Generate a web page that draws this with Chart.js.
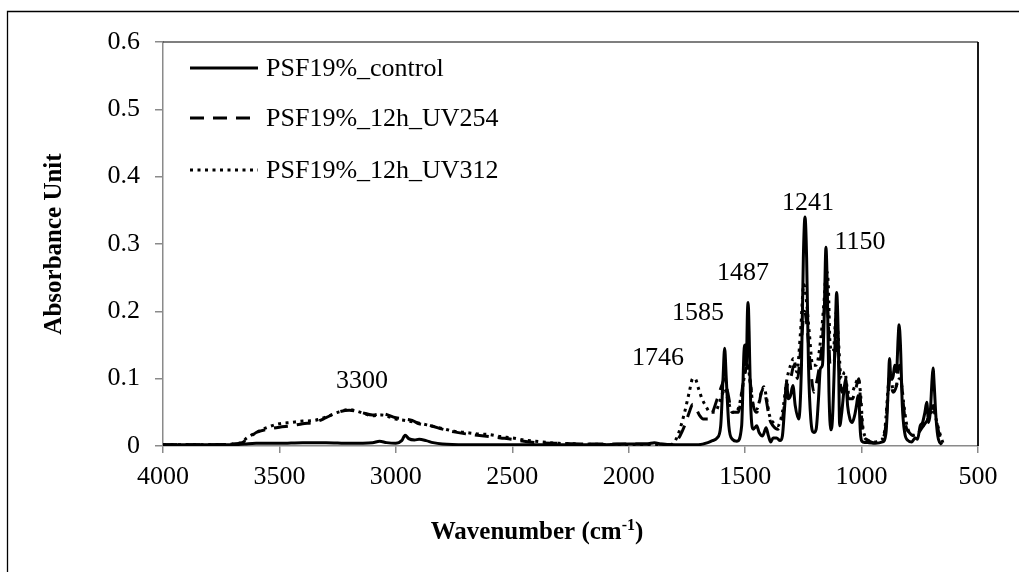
<!DOCTYPE html>
<html><head><meta charset="utf-8">
<script src="https://cdn.jsdelivr.net/npm/chart.js@4.4.0/dist/chart.umd.min.js"></script>
<style>html,body{margin:0;padding:0;background:#fff;}canvas{display:block;}</style>
</head><body>
<canvas id="c" width="1019" height="572"></canvas>
<script>
const seriesNames = ['PSF19%_control', 'PSF19%_12h_UV254', 'PSF19%_12h_UV312'];
const xTickValues = [4000, 3500, 3000, 2500, 2000, 1500, 1000, 500];
const yTickValues = [0, 0.1, 0.2, 0.3, 0.4, 0.5, 0.6];
const xTitle = 'Wavenumber (cm';
const xTitleSup = '-1';
const yTitle = 'Absorbance Unit';

const wnControl = [4000,3900,3800,3700,3650,3600,3500,3400,3300,3200,3100,3070,3040,3000,2975,2960,2945,2920,2900,2870,2840,2800,2700,2500,2300,2100,2000,1920,1890,1860,1800,1700,1660,1640,1620,1605,1595,1588,1581,1570,1555,1535,1515,1505,1500,1495,1490,1487,1483,1476,1465,1450,1440,1425,1410,1400,1390,1380,1365,1350,1340,1330,1322,1315,1305,1295,1285,1270,1258,1250,1243,1236,1228,1218,1205,1195,1185,1177,1168,1160,1153,1147,1140,1132,1125,1115,1107,1100,1094,1085,1075,1068,1060,1050,1040,1030,1022,1015,1010,1005,995,970,940,910,895,885,880,874,866,858,850,843,839,833,825,815,800,785,770,760,748,738,728,720,712,705,697,693,688,680,670,655];
const absControl = [0.002,0.002,0.002,0.002,0.003,0.004,0.004,0.005,0.005,0.004,0.005,0.007,0.005,0.004,0.008,0.016,0.011,0.009,0.010,0.008,0.005,0.003,0.002,0.002,0.002,0.002,0.003,0.003,0.005,0.003,0.002,0.002,0.005,0.008,0.012,0.030,0.100,0.145,0.100,0.030,0.010,0.007,0.030,0.140,0.150,0.120,0.200,0.213,0.170,0.060,0.025,0.030,0.020,0.015,0.027,0.015,0.006,0.012,0.012,0.008,0.015,0.060,0.095,0.070,0.075,0.090,0.060,0.040,0.120,0.280,0.340,0.280,0.120,0.040,0.020,0.025,0.070,0.115,0.120,0.200,0.295,0.230,0.080,0.024,0.040,0.140,0.228,0.160,0.030,0.050,0.085,0.100,0.060,0.040,0.035,0.045,0.060,0.075,0.060,0.020,0.006,0.005,0.004,0.006,0.020,0.090,0.130,0.100,0.100,0.120,0.110,0.160,0.180,0.150,0.060,0.020,0.008,0.006,0.012,0.010,0.030,0.035,0.050,0.065,0.035,0.050,0.100,0.116,0.090,0.040,0.010,0.002];

const wnUV254 = [4000,3800,3700,3660,3640,3620,3600,3550,3500,3450,3400,3350,3300,3250,3200,3150,3100,3060,3000,2960,2930,2900,2850,2800,2750,2700,2650,2600,2550,2500,2450,2400,2300,2200,2000,1900,1820,1800,1780,1760,1740,1725,1710,1695,1680,1660,1640,1620,1600,1588,1575,1555,1530,1510,1500,1490,1480,1465,1450,1430,1420,1410,1395,1380,1360,1340,1320,1305,1290,1275,1260,1245,1235,1220,1205,1190,1170,1155,1145,1135,1120,1108,1100,1085,1070,1055,1040,1025,1012,1005,995,980,950,920,900,885,878,865,850,838,830,820,810,795,775,755,735,715,700,692,680,665,650];
const absUV254 = [0.002,0.002,0.003,0.005,0.010,0.015,0.020,0.025,0.028,0.030,0.033,0.035,0.042,0.050,0.053,0.050,0.046,0.048,0.042,0.040,0.038,0.033,0.030,0.025,0.021,0.018,0.016,0.014,0.012,0.010,0.007,0.005,0.004,0.003,0.003,0.003,0.002,0.005,0.015,0.030,0.050,0.062,0.055,0.045,0.040,0.040,0.050,0.070,0.090,0.100,0.080,0.050,0.050,0.090,0.110,0.120,0.100,0.060,0.050,0.080,0.085,0.070,0.040,0.030,0.025,0.040,0.090,0.100,0.120,0.100,0.150,0.200,0.180,0.120,0.080,0.100,0.150,0.220,0.200,0.120,0.120,0.160,0.130,0.080,0.090,0.070,0.070,0.085,0.100,0.070,0.020,0.010,0.005,0.008,0.020,0.080,0.100,0.080,0.090,0.120,0.100,0.060,0.030,0.020,0.015,0.020,0.030,0.040,0.055,0.060,0.040,0.015,0.003];

const wnUV312 = [4000,3800,3700,3660,3640,3600,3550,3500,3450,3400,3350,3300,3250,3200,3150,3100,3060,3000,2960,2900,2850,2800,2750,2700,2650,2600,2550,2500,2450,2400,2300,2200,2000,1900,1820,1800,1780,1760,1740,1725,1715,1700,1685,1670,1650,1630,1610,1595,1588,1575,1555,1530,1510,1500,1490,1480,1465,1450,1430,1420,1410,1395,1380,1360,1340,1320,1305,1292,1278,1262,1248,1238,1225,1210,1195,1175,1160,1152,1143,1135,1122,1108,1100,1087,1072,1058,1042,1028,1015,1005,995,980,950,920,900,885,878,865,850,838,828,818,808,795,775,755,735,715,700,692,680,665,650];
const absUV312 = [0.002,0.002,0.003,0.006,0.012,0.020,0.028,0.033,0.035,0.037,0.038,0.043,0.050,0.054,0.050,0.045,0.046,0.040,0.038,0.034,0.030,0.026,0.022,0.020,0.018,0.017,0.014,0.012,0.009,0.007,0.004,0.003,0.002,0.002,0.002,0.008,0.025,0.050,0.080,0.100,0.100,0.085,0.070,0.060,0.050,0.050,0.065,0.080,0.085,0.070,0.050,0.055,0.090,0.110,0.125,0.100,0.060,0.055,0.080,0.088,0.075,0.045,0.035,0.030,0.050,0.100,0.120,0.130,0.110,0.170,0.240,0.220,0.170,0.120,0.120,0.160,0.220,0.260,0.240,0.150,0.140,0.200,0.160,0.100,0.110,0.080,0.080,0.090,0.100,0.080,0.030,0.012,0.006,0.008,0.025,0.090,0.110,0.085,0.090,0.100,0.090,0.060,0.035,0.020,0.016,0.020,0.030,0.040,0.050,0.055,0.040,0.020,0.004];

const peakLabels = ['3300', '1746', '1585', '1487', '1241', '1150'];
const peakLabelWn = [3145, 1874, 1702, 1509, 1230, 1007];
const peakLabelAbs = [0.0965, 0.1307, 0.1975, 0.257, 0.361, 0.303];

const FONT = '"Liberation Serif", "Times New Roman", serif';
const dashes = [[], [14, 9], [3, 4.5]];
const toPts = (xs, ys) => xs.map((x, i) => ({x: x, y: ys[i]}));

const framePlugin = {
  id: 'frame',
  beforeDraw(chart) {
    const ctx = chart.ctx;
    ctx.save();
    ctx.fillStyle = '#fff';
    ctx.fillRect(0, 0, chart.width, chart.height);
    ctx.strokeStyle = '#000';
    ctx.lineWidth = 1.3;
    ctx.beginPath();
    ctx.moveTo(7.5, chart.height);
    ctx.lineTo(7.5, 11.5);
    ctx.lineTo(chart.width, 11.5);
    ctx.stroke();
    ctx.restore();
  },
  afterDatasetsDraw(chart) {
    const ctx = chart.ctx;
    const a = chart.chartArea;
    const xs = chart.scales.x, ys = chart.scales.y;
    ctx.save();
    ctx.strokeStyle = '#000';
    ctx.lineWidth = 1.2;
    ctx.beginPath();
    ctx.moveTo(a.left, a.top);
    ctx.lineTo(a.right, a.top);
    ctx.stroke();
    ctx.lineWidth = 1.8;
    ctx.beginPath();
    ctx.moveTo(a.right, a.top);
    ctx.lineTo(a.right, a.bottom);
    ctx.stroke();
    // peak annotations
    ctx.fillStyle = '#000';
    ctx.font = '26px ' + FONT;
    ctx.textAlign = 'center';
    ctx.textBaseline = 'middle';
    peakLabels.forEach((t, i) => {
      ctx.fillText(t, xs.getPixelForValue(peakLabelWn[i]), ys.getPixelForValue(peakLabelAbs[i]));
    });
    // legend
    const rows = [68, 118, 170];
    chart.data.datasets.forEach((ds, i) => {
      ctx.save();
      ctx.strokeStyle = '#000';
      ctx.lineWidth = 3;
      ctx.setLineDash(dashes[i]);
      ctx.beginPath();
      ctx.moveTo(190, rows[i]);
      ctx.lineTo(258, rows[i]);
      ctx.stroke();
      ctx.restore();
      ctx.textAlign = 'left';
      ctx.textBaseline = 'middle';
      ctx.font = '26px ' + FONT;
      ctx.fillText(ds.label, 266, rows[i] + 1);
    });
    // x axis title with superscript
    const big = 'bold 25px ' + FONT, small = 'bold 16px ' + FONT;
    ctx.font = big;
    const w1 = ctx.measureText(xTitle).width;
    const w3 = ctx.measureText(')').width;
    ctx.font = small;
    const w2 = ctx.measureText(xTitleSup).width;
    let x0 = 537 - (w1 + w2 + w3) / 2;
    const base = 539;
    ctx.textAlign = 'left';
    ctx.textBaseline = 'alphabetic';
    ctx.font = big;
    ctx.fillText(xTitle, x0, base);
    ctx.font = small;
    ctx.fillText(xTitleSup, x0 + w1, base - 9);
    ctx.font = big;
    ctx.fillText(')', x0 + w1 + w2, base);
    ctx.restore();
  }
};

new Chart(document.getElementById('c'), {
  type: 'scatter',
  data: {
    datasets: [
      {label: seriesNames[0], data: toPts(wnControl, absControl), borderDash: dashes[0]},
      {label: seriesNames[1], data: toPts(wnUV254, absUV254), borderDash: dashes[1]},
      {label: seriesNames[2], data: toPts(wnUV312, absUV312), borderDash: dashes[2]}
    ].map(d => Object.assign(d, {
      showLine: true, borderColor: '#000', backgroundColor: '#000', borderWidth: 3,
      pointRadius: 0, cubicInterpolationMode: 'monotone', fill: false
    }))
  },
  options: {
    responsive: false,
    animation: false,
    events: [],
    layout: {padding: {left: 0, right: 41, top: 42, bottom: 0}},
    plugins: {legend: {display: false}, tooltip: {enabled: false}},
    scales: {
      x: {
        type: 'linear', reverse: true, min: 500, max: 4000,
        afterFit: s => { s.height = 126; },
        afterBuildTicks: s => { s.ticks = xTickValues.map(v => ({value: v})); },
        grid: {drawOnChartArea: false, drawTicks: true, tickLength: 7, color: '#8a8a8a', lineWidth: 1.5},
        border: {display: true, color: '#8a8a8a', width: 1.5},
        ticks: {color: '#000', padding: 9, maxRotation: 0, font: {family: FONT, size: 26}, callback: v => String(v)},
        title: {display: false}
      },
      y: {
        min: 0, max: 0.6,
        afterFit: s => { s.width = 163; },
        afterBuildTicks: s => { s.ticks = yTickValues.map(v => ({value: v})); },
        grid: {drawOnChartArea: false, drawTicks: true, tickLength: 8, color: '#8a8a8a', lineWidth: 1.5},
        border: {display: true, color: '#8a8a8a', width: 1.5},
        ticks: {color: '#000', padding: 15, font: {family: FONT, size: 26}, callback: v => String(v)},
        title: {display: true, text: yTitle, color: '#000', padding: {top: 40, bottom: 0}, font: {family: FONT, size: 25, weight: 'bold'}}
      }
    }
  },
  plugins: [framePlugin]
});
</script>
</body></html>
